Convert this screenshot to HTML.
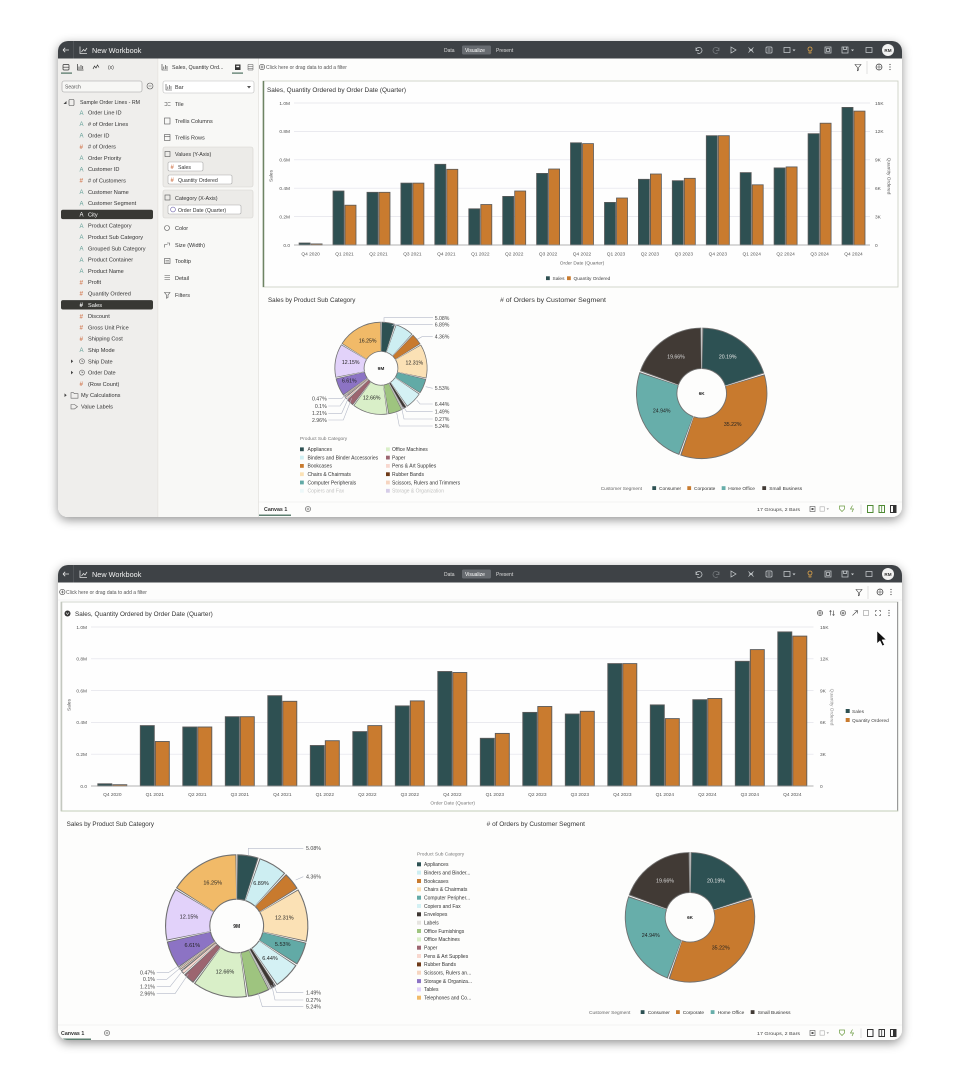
<!DOCTYPE html>
<html><head><meta charset="utf-8">
<style>
html,body{margin:0;padding:0;background:#fff;width:960px;height:1080px;overflow:hidden}
svg{display:block}
text{font-family:"Liberation Sans",sans-serif}
</style></head><body>
<svg xmlns="http://www.w3.org/2000/svg" width="960" height="1080" viewBox="0 0 960 1080">
<defs>
<filter id="sh" x="-4%" y="-6%" width="108%" height="114%">
<feDropShadow dx="0" dy="3" stdDeviation="5" flood-color="#000" flood-opacity="0.42"/>
</filter>
<clipPath id="c1"><rect x="58" y="41" width="844" height="476" rx="10"/></clipPath>
<clipPath id="c2"><rect x="58" y="565" width="844" height="475" rx="10"/></clipPath>
</defs>
<rect width="960" height="1080" fill="#fff"/>

<!-- ================= WINDOW 1 ================= -->
<rect x="58" y="41" width="844" height="476" rx="10" fill="#fdfdfc" filter="url(#sh)"/>
<g clip-path="url(#c1)">
<!-- title bar -->
<g>
<rect x="58" y="41" width="844" height="17.5" fill="#3e4246"/>
<path d="M63 50 h6 M63 50 l2.2 -2.2 M63 50 l2.2 2.2" stroke="#e6e6e6" stroke-width="0.8" fill="none"/>
<line x1="73.5" y1="41" x2="73.5" y2="58.5" stroke="#55595e" stroke-width="0.8"/>
<path d="M80 46.5 v7 h7 M81.5 52 l2 -2.5 l1.5 1.5 l2 -3" stroke="#e0e0e0" stroke-width="0.8" fill="none"/>
<text x="92" y="52.8" font-size="7.3" fill="#f2f2f2">New Workbook</text>
<text x="444" y="52" font-size="5" fill="#dcdcdc">Data</text>
<rect x="462" y="45.5" width="29" height="9" rx="1.5" fill="#676b70"/>
<text x="465" y="52" font-size="5" fill="#fff">Visualize</text>
<text x="496" y="52" font-size="5" fill="#dcdcdc">Present</text>
<g stroke="#cfd3d6" stroke-width="0.7" fill="none">
<path d="M696 47.5 v3 h3 M696 50.5 a3 3 0 1 1 1.2 2.3"/>
<path d="M719 47.5 v3 h-3 M719 50.5 a3 3 0 1 0 -1.2 2.3" stroke="#7a7e82"/>
<polygon points="731,47 736,50 731,53"/>
<path d="M748.5 47.5 l5 5 M753.5 47.5 l-5 5 M749 50 h4"/>
<rect x="766" y="47" width="6" height="6" rx="1"/>
<path d="M767.5 49 h3 M767.5 51 h3"/>
<rect x="784" y="47.5" width="6" height="5"/>
<rect x="825" y="47" width="6" height="6"/>
<rect x="826.5" y="48.5" width="3" height="3"/>
<rect x="842" y="47" width="6" height="6"/>
<path d="M843.5 47 v2.5 h3 v-2.5"/>
<rect x="866" y="47.5" width="6" height="5"/>
</g>
<polygon points="792.5,49.5 795.5,49.5 794,51.3" fill="#cfd3d6"/>
<polygon points="851,49.5 854,49.5 852.5,51.3" fill="#cfd3d6"/>
<circle cx="810" cy="49" r="2" fill="none" stroke="#e2a64a" stroke-width="0.8"/>
<path d="M809 51.5 v1.5 h2 v-1.5" stroke="#e2a64a" stroke-width="0.7" fill="none"/>
<circle cx="888" cy="50" r="6" fill="#f2f2f2"/>
<text x="888" y="51.8" font-size="4.6" fill="#333" text-anchor="middle" font-weight="bold">RM</text>
</g>

<!-- data panel -->
<rect x="58" y="58.5" width="100" height="460" fill="#efeeec"/>
<line x1="158" y1="58.5" x2="158" y2="517" stroke="#dcdad6" stroke-width="0.6"/>
<!-- grammar panel -->
<rect x="158.3" y="58.5" width="100" height="460" fill="#f8f8f6"/>
<line x1="258.3" y1="58.5" x2="258.3" y2="517" stroke="#dcdad6" stroke-width="0.6"/>

<!-- data panel tabs -->
<g stroke="#333" stroke-width="0.7" fill="none">
<rect x="63" y="64.5" width="6" height="5.5" rx="1"/>
<path d="M63 67.2 h6"/>
<path d="M77.5 64 v6 h6 M79 69 v-2.5 M81 69 v-4 M82.7 69 v-3"/>
<path d="M93 69 l1.5 -3 l1.5 2 l1.5 -3 l1.5 2.5"/>
</g>
<text x="108" y="69" font-size="5" fill="#333">(x)</text>
<rect x="61" y="72.5" width="11" height="1.2" fill="#4d7060"/>
<!-- search -->
<rect x="62" y="81" width="80" height="11" rx="2" fill="#f7f7f5" stroke="#a0a0a0" stroke-width="0.6"/>
<text x="65" y="88.5" font-size="5" fill="#555">Search</text>
<circle cx="150" cy="86" r="3" fill="none" stroke="#555" stroke-width="0.6"/>
<path d="M148.5 86 h3" stroke="#555" stroke-width="0.6"/>
<!-- tree root -->
<polygon points="63.5,104 66.5,104 66.5,101" fill="#444"/>
<rect x="69" y="99.5" width="5" height="6" rx="0.8" fill="none" stroke="#444" stroke-width="0.6"/>
<text x="80" y="104" font-size="5.3" fill="#333">Sample Order Lines - RM</text>
<!-- highlights -->
<rect x="61" y="209.7" width="92" height="9.4" rx="2" fill="#383834"/>
<rect x="61" y="300.1" width="92" height="9.4" rx="2" fill="#383834"/>
<!-- A icons -->
<g font-size="6" fill="#5f9d95">
<text x="79.5" y="114.9">A</text>
<text x="79.5" y="126.2">A</text>
<text x="79.5" y="137.5">A</text>
<text x="79.5" y="160.1">A</text>
<text x="79.5" y="171.4">A</text>
<text x="79.5" y="194.0">A</text>
<text x="79.5" y="205.3">A</text>
<text x="79.5" y="216.6" fill="#fff">A</text>
<text x="79.5" y="227.9">A</text>
<text x="79.5" y="239.2">A</text>
<text x="79.5" y="250.5">A</text>
<text x="79.5" y="261.8">A</text>
<text x="79.5" y="273.1">A</text>
<text x="79.5" y="352.2">A</text>
</g>
<g font-size="6.3" fill="#d4825c" font-weight="bold">
<text x="79.5" y="148.8">#</text>
<text x="79.5" y="182.7">#</text>
<text x="79.5" y="284.4">#</text>
<text x="79.5" y="295.7">#</text>
<text x="79.5" y="307.0" fill="#fff">#</text>
<text x="79.5" y="318.3">#</text>
<text x="79.5" y="329.6">#</text>
<text x="79.5" y="340.9">#</text>
<text x="79.5" y="386.1">#</text>
</g>
<g fill="none" stroke="#666" stroke-width="0.6">
<circle cx="82" cy="361.3" r="2.5"/><path d="M82 360 v1.4 h1.2"/>
<circle cx="82" cy="372.6" r="2.5"/><path d="M82 371.3 v1.4 h1.2"/>
<path d="M71 392.7 h2.5 l0.8 1 h3.7 v4.5 h-7 z"/>
<path d="M71 404.5 h3.5 l3 2.2 l-3 2.2 h-3.5 z"/>
</g>
<polygon points="71,359.5 73.2,361.3 71,363.1" fill="#444"/>
<polygon points="71,370.8 73.2,372.6 71,374.4" fill="#444"/>
<polygon points="64.5,393.4 66.7,395.2 64.5,397" fill="#444"/>
<g font-size="5.6" fill="#333">
<text x="88" y="114.7">Order Line ID</text>
<text x="88" y="126.0"># of Order Lines</text>
<text x="88" y="137.3">Order ID</text>
<text x="88" y="148.6"># of Orders</text>
<text x="88" y="159.9">Order Priority</text>
<text x="88" y="171.2">Customer ID</text>
<text x="88" y="182.5"># of Customers</text>
<text x="88" y="193.8">Customer Name</text>
<text x="88" y="205.1">Customer Segment</text>
<text x="88" y="216.4" fill="#fff">City</text>
<text x="88" y="227.7">Product Category</text>
<text x="88" y="239.0">Product Sub Category</text>
<text x="88" y="250.3">Grouped Sub Category</text>
<text x="88" y="261.6">Product Container</text>
<text x="88" y="272.9">Product Name</text>
<text x="88" y="284.2">Profit</text>
<text x="88" y="295.5">Quantity Ordered</text>
<text x="88" y="306.8" fill="#fff">Sales</text>
<text x="88" y="318.1">Discount</text>
<text x="88" y="329.4">Gross Unit Price</text>
<text x="88" y="340.7">Shipping Cost</text>
<text x="88" y="352.0">Ship Mode</text>
<text x="88" y="363.3">Ship Date</text>
<text x="88" y="374.6">Order Date</text>
<text x="88" y="385.9">(Row Count)</text>
<text x="81" y="397.2">My Calculations</text>
<text x="81" y="408.5">Value Labels</text>
</g>

<!-- grammar panel -->
<path d="M162 64 v6 h6 M163.8 69 v-2.5 M165.5 69 v-4 M167 69 v-3" stroke="#333" stroke-width="0.6" fill="none"/>
<text x="172" y="69" font-size="5.4" fill="#333">Sales, Quantity Ord...</text>
<rect x="235" y="64.5" width="5.5" height="5.5" fill="#333"/>
<rect x="236.3" y="65.8" width="2.9" height="1.4" fill="#f8f8f6"/>
<rect x="232" y="72.5" width="11" height="1.2" fill="#4d7060"/>
<path d="M248 64.5 h5 v5.5 h-5 z M248 66.5 h5 M248 68.3 h5" stroke="#555" stroke-width="0.5" fill="none"/>
<rect x="163" y="81" width="91" height="12" rx="2" fill="#fff" stroke="#bbb" stroke-width="0.6"/>
<path d="M166 84 v6 h6 M167.8 89 v-2.5 M169.5 89 v-4 M171 89 v-3" stroke="#444" stroke-width="0.6" fill="none"/>
<text x="175" y="89" font-size="5.5" fill="#333">Bar</text>
<polygon points="247,86 251,86 249,88.5" fill="#555"/>
<g stroke="#555" stroke-width="0.6" fill="none">
<path d="M164.5 102.5 h2.5 v3 h-2.5 M168 102.5 h2.5 M168 105.5 h2.5"/>
<rect x="164.5" y="118" width="5.5" height="6"/>
<rect x="164.5" y="134.5" width="5.5" height="6"/><path d="M164.5 136.5 h5.5"/>
</g>
<g font-size="5.5" fill="#333">
<text x="175" y="106">Tile</text>
<text x="175" y="123">Trellis Columns</text>
<text x="175" y="139.5">Trellis Rows</text>
</g>
<rect x="163" y="147" width="90" height="40" rx="2" fill="#ecebe8" stroke="#d5d3cf" stroke-width="0.6"/>
<rect x="165" y="151.5" width="5" height="5" fill="none" stroke="#555" stroke-width="0.6"/>
<text x="175" y="156" font-size="5.4" fill="#333">Values (Y-Axis)</text>
<rect x="168" y="162" width="35" height="9" rx="1.5" fill="#fff" stroke="#a9a9a9" stroke-width="0.6"/>
<text x="170.5" y="169" font-size="6" fill="#d4825c" font-weight="bold">#</text>
<text x="178" y="168.8" font-size="5.2" fill="#333">Sales</text>
<rect x="168" y="175" width="64" height="9" rx="1.5" fill="#fff" stroke="#a9a9a9" stroke-width="0.6"/>
<text x="170.5" y="182" font-size="6" fill="#d4825c" font-weight="bold">#</text>
<text x="178" y="181.8" font-size="5.2" fill="#333">Quantity Ordered</text>
<rect x="163" y="190" width="90" height="28" rx="2" fill="#ecebe8" stroke="#d5d3cf" stroke-width="0.6"/>
<rect x="165" y="195" width="5" height="5" fill="none" stroke="#555" stroke-width="0.6"/>
<text x="175" y="200" font-size="5.4" fill="#333">Category (X-Axis)</text>
<rect x="168" y="205" width="73" height="9" rx="1.5" fill="#fff" stroke="#a9a9a9" stroke-width="0.6"/>
<circle cx="173" cy="209.5" r="2.4" fill="none" stroke="#6a5fa8" stroke-width="0.6"/>
<text x="178" y="211.8" font-size="5.2" fill="#333">Order Date (Quarter)</text>
<g stroke="#555" stroke-width="0.6" fill="none">
<circle cx="167" cy="228" r="2.5"/>
<path d="M164.5 247.5 v-3 M164.5 244.5 h3 M167 243 h2.5 v2.5"/>
<rect x="164.5" y="258.5" width="5.5" height="5"/><path d="M165.5 260.5 h3.5 M165.5 262 h3.5"/>
<path d="M164.5 275.5 h5.5 M164.5 277.5 h5.5 M164.5 279.5 h5.5"/>
<path d="M164.5 292.5 h5.5 l-2 2.5 v2.5 l-1.5 0.8 v-3.3 z"/>
</g>
<g font-size="5.5" fill="#333">
<text x="175" y="230">Color</text>
<text x="175" y="247">Size (Width)</text>
<text x="175" y="263">Tooltip</text>
<text x="175" y="280">Detail</text>
<text x="175" y="297">Filters</text>
</g>

<!-- canvas filter bar -->
<circle cx="262" cy="67" r="2.7" fill="none" stroke="#444" stroke-width="0.6"/>
<path d="M260.5 67 h3 M262 65.5 v3" stroke="#444" stroke-width="0.6"/>
<text x="266" y="69" font-size="5" fill="#555">Click here or drag data to add a filter</text>
<g>
<path d="M855 64.5 h6 l-2.3 2.8 v2.6 l-1.4 0.8 v-3.4 z" fill="none" stroke="#444" stroke-width="0.6"/>
<line x1="867" y1="61" x2="867" y2="74" stroke="#cfcfcf" stroke-width="0.6"/>
<circle cx="879" cy="67" r="3" fill="none" stroke="#444" stroke-width="0.7"/>
<path d="M876 67 h6 M879 64 v6" stroke="#444" stroke-width="0.5"/>
<circle cx="890" cy="64.5" r="0.6" fill="#444"/><circle cx="890" cy="67" r="0.6" fill="#444"/><circle cx="890" cy="69.5" r="0.6" fill="#444"/>
</g>

<!-- bar chart viz -->
<rect x="263" y="81" width="635" height="206" fill="#fefefe" stroke="#c8ccc0" stroke-width="0.8"/>
<line x1="263.5" y1="81" x2="263.5" y2="287" stroke="#6e8464" stroke-width="1.5"/>
<text x="267" y="92" font-size="6.2" fill="#333" textLength="139" lengthAdjust="spacingAndGlyphs">Sales, Quantity Ordered by Order Date (Quarter)</text>
<g stroke="#e3e3ea" stroke-width="0.7">
<line x1="294" y1="103" x2="870" y2="103"/>
<line x1="294" y1="131.4" x2="870" y2="131.4"/>
<line x1="294" y1="159.8" x2="870" y2="159.8"/>
<line x1="294" y1="188.2" x2="870" y2="188.2"/>
<line x1="294" y1="216.6" x2="870" y2="216.6"/>
</g>
<g font-size="4.8" fill="#555" text-anchor="end">
<text x="290" y="104.8">1.0M</text>
<text x="290" y="133.2">0.8M</text>
<text x="290" y="161.6">0.6M</text>
<text x="290" y="190">0.4M</text>
<text x="290" y="218.4">0.2M</text>
<text x="290" y="246.8">0.0</text>
</g>
<g font-size="4.8" fill="#555">
<text x="875" y="104.8">15K</text>
<text x="875" y="133.2">12K</text>
<text x="875" y="161.6">9K</text>
<text x="875" y="190">6K</text>
<text x="875" y="218.4">3K</text>
<text x="875" y="246.8">0</text>
</g>
<text x="271" y="177.5" font-size="4.8" fill="#555" text-anchor="middle" transform="rotate(-90 271 176)">Sales</text>
<text x="889" y="177.5" font-size="4.8" fill="#555" text-anchor="middle" transform="rotate(90 889 176)">Quantity Ordered</text>
<g fill="#2e5052" stroke="#5a5a5a" stroke-width="0.8">
<rect x="299.1" y="243.0" width="11" height="2.0"/>
<rect x="333.0" y="191.0" width="11" height="54.0"/>
<rect x="367.0" y="192.3" width="11" height="52.7"/>
<rect x="400.9" y="183.1" width="11" height="61.9"/>
<rect x="434.8" y="164.3" width="11" height="80.7"/>
<rect x="468.8" y="208.8" width="11" height="36.2"/>
<rect x="502.7" y="196.4" width="11" height="48.6"/>
<rect x="536.6" y="173.4" width="11" height="71.6"/>
<rect x="570.5" y="142.8" width="11" height="102.2"/>
<rect x="604.5" y="202.4" width="11" height="42.6"/>
<rect x="638.4" y="179.3" width="11" height="65.7"/>
<rect x="672.3" y="180.7" width="11" height="64.3"/>
<rect x="706.3" y="135.7" width="11" height="109.3"/>
<rect x="740.2" y="172.6" width="11" height="72.4"/>
<rect x="774.1" y="167.9" width="11" height="77.1"/>
<rect x="808.1" y="133.7" width="11" height="111.3"/>
<rect x="842.0" y="107.4" width="11" height="137.6"/>
</g>
<g fill="#c97b2f" stroke="#5a5a5a" stroke-width="0.8">
<rect x="311.1" y="243.9" width="11" height="1.1"/>
<rect x="345.0" y="205.2" width="11" height="39.8"/>
<rect x="379.0" y="192.3" width="11" height="52.7"/>
<rect x="412.9" y="183.1" width="11" height="61.9"/>
<rect x="446.8" y="169.3" width="11" height="75.7"/>
<rect x="480.8" y="204.5" width="11" height="40.5"/>
<rect x="514.7" y="191.0" width="11" height="54.0"/>
<rect x="548.6" y="169.0" width="11" height="76.0"/>
<rect x="582.5" y="143.6" width="11" height="101.4"/>
<rect x="616.5" y="198.0" width="11" height="47.0"/>
<rect x="650.4" y="174.0" width="11" height="71.0"/>
<rect x="684.3" y="178.3" width="11" height="66.7"/>
<rect x="718.3" y="135.7" width="11" height="109.3"/>
<rect x="752.2" y="184.8" width="11" height="60.2"/>
<rect x="786.1" y="166.9" width="11" height="78.1"/>
<rect x="820.1" y="123.2" width="11" height="121.8"/>
<rect x="854.0" y="111.1" width="11" height="133.9"/>
</g>
<line x1="294" y1="245" x2="870" y2="245" stroke="#9a9a9a" stroke-width="0.8"/>
<g font-size="4.8" fill="#555" text-anchor="middle">
<text x="310.6" y="255.5">Q4 2020</text>
<text x="344.5" y="255.5">Q1 2021</text>
<text x="378.5" y="255.5">Q2 2021</text>
<text x="412.4" y="255.5">Q3 2021</text>
<text x="446.3" y="255.5">Q4 2021</text>
<text x="480.3" y="255.5">Q1 2022</text>
<text x="514.2" y="255.5">Q2 2022</text>
<text x="548.1" y="255.5">Q3 2022</text>
<text x="582.0" y="255.5">Q4 2022</text>
<text x="616.0" y="255.5">Q1 2023</text>
<text x="649.9" y="255.5">Q2 2023</text>
<text x="683.8" y="255.5">Q3 2023</text>
<text x="717.8" y="255.5">Q4 2023</text>
<text x="751.7" y="255.5">Q1 2024</text>
<text x="785.6" y="255.5">Q2 2024</text>
<text x="819.6" y="255.5">Q3 2024</text>
<text x="853.5" y="255.5">Q4 2024</text>
<text x="582" y="264.5" fill="#666">Order Date (Quarter)</text>
</g>
<rect x="546" y="276.3" width="3.8" height="3.8" fill="#2e5052"/>
<text x="552.5" y="279.8" font-size="4.8" fill="#444">Sales</text>
<rect x="567" y="276.3" width="3.8" height="3.8" fill="#c97b2f"/>
<text x="573.5" y="279.8" font-size="4.8" fill="#444">Quantity Ordered</text>

<!-- top pies -->
<text x="268" y="302" font-size="6.2" fill="#333" textLength="87.4" lengthAdjust="spacingAndGlyphs">Sales by Product Sub Category</text>
<text x="500" y="302" font-size="6.2" fill="#333" textLength="106" lengthAdjust="spacingAndGlyphs"># of Orders by Customer Segment</text>

<g fill="none" stroke="#707070" stroke-width="30">
<circle cx="381" cy="368.3" r="31.5" stroke-dasharray="9.55 400" stroke-dashoffset="-0.25" transform="rotate(-90 381 368.3)"/>
<circle cx="381" cy="368.3" r="31.5" stroke-dasharray="13.14 400" stroke-dashoffset="-0.25" transform="rotate(-71.71 381 368.3)"/>
<circle cx="381" cy="368.3" r="31.5" stroke-dasharray="8.13 400" stroke-dashoffset="-0.25" transform="rotate(-46.91 381 368.3)"/>
<circle cx="381" cy="368.3" r="31.5" stroke-dasharray="23.86 400" stroke-dashoffset="-0.25" transform="rotate(-31.21 381 368.3)"/>
<circle cx="381" cy="368.3" r="31.5" stroke-dasharray="10.44 400" stroke-dashoffset="-0.25" transform="rotate(13.10 381 368.3)"/>
<circle cx="381" cy="368.3" r="31.5" stroke-dasharray="12.24 400" stroke-dashoffset="-0.25" transform="rotate(33.01 381 368.3)"/>
<circle cx="381" cy="368.3" r="31.5" stroke-dasharray="2.45 400" stroke-dashoffset="-0.25" transform="rotate(56.20 381 368.3)"/>
<circle cx="381" cy="368.3" r="31.5" stroke-dasharray="0.53 400" transform="rotate(61.56 381 368.3)"/>
<circle cx="381" cy="368.3" r="31.5" stroke-dasharray="9.87 400" stroke-dashoffset="-0.25" transform="rotate(62.53 381 368.3)"/>
<circle cx="381" cy="368.3" r="31.5" stroke-dasharray="24.55 400" stroke-dashoffset="-0.25" transform="rotate(81.40 381 368.3)"/>
<circle cx="381" cy="368.3" r="31.5" stroke-dasharray="5.36 400" stroke-dashoffset="-0.25" transform="rotate(126.97 381 368.3)"/>
<circle cx="381" cy="368.3" r="31.5" stroke-dasharray="1.89 400" stroke-dashoffset="-0.25" transform="rotate(137.63 381 368.3)"/>
<circle cx="381" cy="368.3" r="31.5" stroke-dasharray="0.20 400" transform="rotate(141.98 381 368.3)"/>
<circle cx="381" cy="368.3" r="31.5" stroke-dasharray="0.93 400" transform="rotate(142.34 381 368.3)"/>
<circle cx="381" cy="368.3" r="31.5" stroke-dasharray="12.58 400" stroke-dashoffset="-0.25" transform="rotate(144.04 381 368.3)"/>
<circle cx="381" cy="368.3" r="31.5" stroke-dasharray="23.54 400" stroke-dashoffset="-0.25" transform="rotate(167.83 381 368.3)"/>
<circle cx="381" cy="368.3" r="31.5" stroke-dasharray="31.66 400" stroke-dashoffset="-0.25" transform="rotate(211.57 381 368.3)"/>
</g>
<g fill="none" stroke-width="28.4">
<circle cx="381" cy="368.3" r="31.5" stroke="#2d5153" stroke-dasharray="8.55 400" stroke-dashoffset="-0.75" transform="rotate(-90 381 368.3)"/>
<circle cx="381" cy="368.3" r="31.5" stroke="#cdeef2" stroke-dasharray="12.14 400" stroke-dashoffset="-0.75" transform="rotate(-71.71 381 368.3)"/>
<circle cx="381" cy="368.3" r="31.5" stroke="#c87a2e" stroke-dasharray="7.13 400" stroke-dashoffset="-0.75" transform="rotate(-46.91 381 368.3)"/>
<circle cx="381" cy="368.3" r="31.5" stroke="#fbe1b5" stroke-dasharray="22.86 400" stroke-dashoffset="-0.75" transform="rotate(-31.21 381 368.3)"/>
<circle cx="381" cy="368.3" r="31.5" stroke="#62aaa6" stroke-dasharray="9.44 400" stroke-dashoffset="-0.75" transform="rotate(13.10 381 368.3)"/>
<circle cx="381" cy="368.3" r="31.5" stroke="#d4f1f4" stroke-dasharray="11.24 400" stroke-dashoffset="-0.75" transform="rotate(33.01 381 368.3)"/>
<circle cx="381" cy="368.3" r="31.5" stroke="#3d3632" stroke-dasharray="1.45 400" stroke-dashoffset="-0.75" transform="rotate(56.20 381 368.3)"/>
<circle cx="381" cy="368.3" r="31.5" stroke="#e6e4e0" stroke-dasharray="0.24 400" stroke-dashoffset="-0.15" transform="rotate(61.56 381 368.3)"/>
<circle cx="381" cy="368.3" r="31.5" stroke="#9ec47f" stroke-dasharray="8.87 400" stroke-dashoffset="-0.75" transform="rotate(62.53 381 368.3)"/>
<circle cx="381" cy="368.3" r="31.5" stroke="#d9efc8" stroke-dasharray="23.55 400" stroke-dashoffset="-0.75" transform="rotate(81.40 381 368.3)"/>
<circle cx="381" cy="368.3" r="31.5" stroke="#9c6570" stroke-dasharray="4.36 400" stroke-dashoffset="-0.75" transform="rotate(126.97 381 368.3)"/>
<circle cx="381" cy="368.3" r="31.5" stroke="#f8d8cf" stroke-dasharray="0.89 400" stroke-dashoffset="-0.5" transform="rotate(137.63 381 368.3)"/>
<circle cx="381" cy="368.3" r="31.5" stroke="#6e3a18" stroke-dasharray="0.09 400" stroke-dashoffset="-0.06" transform="rotate(141.98 381 368.3)"/>
<circle cx="381" cy="368.3" r="31.5" stroke="#f6d5c0" stroke-dasharray="0.42 400" stroke-dashoffset="-0.26" transform="rotate(142.34 381 368.3)"/>
<circle cx="381" cy="368.3" r="31.5" stroke="#8c73c4" stroke-dasharray="11.58 400" stroke-dashoffset="-0.75" transform="rotate(144.04 381 368.3)"/>
<circle cx="381" cy="368.3" r="31.5" stroke="#e2d2fa" stroke-dasharray="22.54 400" stroke-dashoffset="-0.75" transform="rotate(167.83 381 368.3)"/>
<circle cx="381" cy="368.3" r="31.5" stroke="#f1ba68" stroke-dasharray="30.66 400" stroke-dashoffset="-0.75" transform="rotate(211.57 381 368.3)"/>
</g>
<g font-size="5.2" fill="#222" text-anchor="middle">
<text x="367.7" y="342.5">16.25%</text>
<text x="350.7" y="363.8">12.15%</text>
<text x="349.3" y="382.5">6.61%</text>
<text x="371.7" y="399.5">12.66%</text>
<text x="414.3" y="364.5">12.31%</text>
<text x="381" y="370.1" font-weight="bold" font-size="4.8">9M</text>
</g>
<g fill="none" stroke="#b5bac8" stroke-width="0.6">
<polyline points="384,322.5 384,317.7 433,317.7"/>
<polyline points="391.7,326 394,324.7 432.7,324.7"/>
<polyline points="417.3,339.3 422,336.7 432.7,336.7"/>
<polyline points="425.7,386.7 432.7,388.3"/>
<polyline points="416.7,400 420,404 432.7,404"/>
<polyline points="403.3,406.7 406.7,411.7 432.7,411.7"/>
<polyline points="401.7,408.3 404,419 432.7,419"/>
<polyline points="396.7,412.7 399.3,426 432.7,426"/>
<polyline points="347.3,392.7 341.7,398.7 328.3,398.7"/>
<polyline points="348.3,394 340,406 328.3,406"/>
<polyline points="349.3,396 341.7,413.3 328.3,413.3"/>
<polyline points="351.7,398.3 343.3,420 328.3,420"/>
</g>
<g font-size="5.2" fill="#444">
<text x="434.7" y="319.8">5.08%</text>
<text x="434.7" y="326.5">6.89%</text>
<text x="434.7" y="338.5">4.36%</text>
<text x="434.7" y="390.1">5.53%</text>
<text x="434.7" y="405.8">6.44%</text>
<text x="434.7" y="413.5">1.49%</text>
<text x="434.7" y="420.8">0.27%</text>
<text x="434.7" y="427.8">5.24%</text>
</g>
<g font-size="5.2" fill="#444" text-anchor="end">
<text x="326.7" y="400.5">0.47%</text>
<text x="326.7" y="407.8">0.1%</text>
<text x="326.7" y="415.1">1.21%</text>
<text x="326.7" y="421.8">2.96%</text>
</g>
<text x="300" y="439.8" font-size="4.8" fill="#777">Product Sub Category</text>
<rect x="300" y="447.4" width="3.8" height="3.8" fill="#2d5153"/>
<rect x="300" y="455.7" width="3.8" height="3.8" fill="#cdeef2"/>
<rect x="300" y="464.0" width="3.8" height="3.8" fill="#c87a2e"/>
<rect x="300" y="472.3" width="3.8" height="3.8" fill="#fbe1b5"/>
<rect x="300" y="480.6" width="3.8" height="3.8" fill="#62aaa6"/>
<rect x="300" y="488.9" width="3.8" height="3.8" fill="#d4f1f4" opacity="0.4"/>
<rect x="386" y="447.4" width="3.8" height="3.8" fill="#d9efc8"/>
<rect x="386" y="455.7" width="3.8" height="3.8" fill="#9c6570"/>
<rect x="386" y="464.0" width="3.8" height="3.8" fill="#f8d8cf"/>
<rect x="386" y="472.3" width="3.8" height="3.8" fill="#6e3a18"/>
<rect x="386" y="480.6" width="3.8" height="3.8" fill="#f6d5c0"/>
<rect x="386" y="488.9" width="3.8" height="3.8" fill="#8c73c4" opacity="0.35"/>
<g font-size="5" fill="#333">
<text x="307.5" y="451.1">Appliances</text>
<text x="307.5" y="459.4">Binders and Binder Accessories</text>
<text x="307.5" y="467.7">Bookcases</text>
<text x="307.5" y="476.0">Chairs &amp; Chairmats</text>
<text x="307.5" y="484.3">Computer Peripherals</text>
<text x="307.5" y="492.6" opacity="0.3">Copiers and Fax</text>
<text x="392" y="451.1">Office Machines</text>
<text x="392" y="459.4">Paper</text>
<text x="392" y="467.7">Pens &amp; Art Supplies</text>
<text x="392" y="476.0">Rubber Bands</text>
<text x="392" y="484.3">Scissors, Rulers and Trimmers</text>
<text x="392" y="492.6" opacity="0.3">Storage &amp; Organization</text>
</g>

<!-- top segment donut -->
<g fill="none" stroke="#707070" stroke-width="41.4">
<circle cx="701.7" cy="393.3" r="45" stroke-dasharray="56.28 400" stroke-dashoffset="-0.4" transform="rotate(-90 701.7 393.3)"/>
<circle cx="701.7" cy="393.3" r="45" stroke-dasharray="98.77 400" stroke-dashoffset="-0.4" transform="rotate(-17.32 701.7 393.3)"/>
<circle cx="701.7" cy="393.3" r="45" stroke-dasharray="69.71 400" stroke-dashoffset="-0.4" transform="rotate(109.48 701.7 393.3)"/>
<circle cx="701.7" cy="393.3" r="45" stroke-dasharray="54.78 400" stroke-dashoffset="-0.4" transform="rotate(199.26 701.7 393.3)"/>
</g>
<g fill="none" stroke-width="39.6">
<circle cx="701.7" cy="393.3" r="45" stroke="#2d5153" stroke-dasharray="54.68 400" stroke-dashoffset="-1.2" transform="rotate(-90 701.7 393.3)"/>
<circle cx="701.7" cy="393.3" r="45" stroke="#c87a2e" stroke-dasharray="97.17 400" stroke-dashoffset="-1.2" transform="rotate(-17.32 701.7 393.3)"/>
<circle cx="701.7" cy="393.3" r="45" stroke="#67aeaa" stroke-dasharray="68.11 400" stroke-dashoffset="-1.2" transform="rotate(109.48 701.7 393.3)"/>
<circle cx="701.7" cy="393.3" r="45" stroke="#413a35" stroke-dasharray="53.18 400" stroke-dashoffset="-1.2" transform="rotate(199.26 701.7 393.3)"/>
</g>
<g font-size="5.2" text-anchor="middle">
<text x="727.7" y="358.5" fill="#e8e8e8">20.19%</text>
<text x="732.7" y="425.8" fill="#222">35.22%</text>
<text x="661.7" y="412.5" fill="#222">24.94%</text>
<text x="676" y="358.5" fill="#ddd">19.66%</text>
<text x="701.7" y="395" fill="#222" font-weight="bold" font-size="4.6">6K</text>
</g>
<text x="600.7" y="490" font-size="4.8" fill="#666">Customer Segment</text>
<rect x="652.3" y="486.2" width="3.8" height="3.8" fill="#2d5153"/>
<rect x="687.3" y="486.2" width="3.8" height="3.8" fill="#c87a2e"/>
<rect x="721.7" y="486.2" width="3.8" height="3.8" fill="#67aeaa"/>
<rect x="762.3" y="486.2" width="3.8" height="3.8" fill="#413a35"/>
<g font-size="4.8" fill="#333">
<text x="659" y="490">Consumer</text>
<text x="694" y="490">Corporate</text>
<text x="728.3" y="490">Home Office</text>
<text x="769.3" y="490">Small Business</text>
</g>

<!-- top status bar -->
<line x1="258.3" y1="502" x2="902" y2="502" stroke="#e8e8e8" stroke-width="0.6"/>
<text x="264" y="511" font-size="5.3" fill="#333" font-weight="bold">Canvas 1</text>
<rect x="259" y="514.5" width="32" height="1.5" fill="#5d7f70"/>
<circle cx="308" cy="509" r="2.6" fill="none" stroke="#555" stroke-width="0.6"/>
<path d="M306.6 509 h2.8 M308 507.6 v2.8" stroke="#555" stroke-width="0.5"/>
<g>
<text x="757" y="511" font-size="4.8" fill="#444" textLength="43" lengthAdjust="spacingAndGlyphs">17 Groups, 2 Bars</text>
<rect x="810" y="506.5" width="5" height="5" fill="none" stroke="#555" stroke-width="0.6"/>
<rect x="811.5" y="508" width="2" height="2" fill="#555"/>
<rect x="820" y="506.8" width="4.4" height="4.4" fill="none" stroke="#aaa" stroke-width="0.6"/>
<polygon points="826.5,508.3 829,508.3 827.75,510" fill="#aaa"/>
<path d="M839.5 506 h5 v3 l-2.5 2.5 l-2.5 -2.5 z" fill="none" stroke="#6a9a40" stroke-width="0.7"/>
<path d="M852.5 505.5 l-2 3.5 h3 l-1.5 3" fill="none" stroke="#6a9a40" stroke-width="0.7"/>
<line x1="861" y1="504.5" x2="861" y2="514" stroke="#ccc" stroke-width="0.6"/>
<rect x="867.5" y="505.5" width="5.5" height="7" fill="none" stroke="#4f8a34" stroke-width="1"/>
<rect x="879" y="505.5" width="5.5" height="7" fill="none" stroke="#4f8a34" stroke-width="1"/>
<line x1="881.7" y1="505.5" x2="881.7" y2="512.5" stroke="#4f8a34" stroke-width="0.8"/>
<rect x="890.5" y="505.5" width="5.5" height="7" fill="none" stroke="#333" stroke-width="1"/>
<rect x="893" y="505.5" width="3" height="7" fill="#333"/>
</g>
</g>

<!-- ================= WINDOW 2 ================= -->
<rect x="58" y="565" width="844" height="475" rx="10" fill="#fdfdfc" filter="url(#sh)"/>
<g clip-path="url(#c2)">
<g transform="translate(0,524)">
<rect x="58" y="41" width="844" height="17.5" fill="#3e4246"/>
<path d="M63 50 h6 M63 50 l2.2 -2.2 M63 50 l2.2 2.2" stroke="#e6e6e6" stroke-width="0.8" fill="none"/>
<line x1="73.5" y1="41" x2="73.5" y2="58.5" stroke="#55595e" stroke-width="0.8"/>
<path d="M80 46.5 v7 h7 M81.5 52 l2 -2.5 l1.5 1.5 l2 -3" stroke="#e0e0e0" stroke-width="0.8" fill="none"/>
<text x="92" y="52.8" font-size="7.3" fill="#f2f2f2">New Workbook</text>
<text x="444" y="52" font-size="5" fill="#dcdcdc">Data</text>
<rect x="462" y="45.5" width="29" height="9" rx="1.5" fill="#676b70"/>
<text x="465" y="52" font-size="5" fill="#fff">Visualize</text>
<text x="496" y="52" font-size="5" fill="#dcdcdc">Present</text>
<g stroke="#cfd3d6" stroke-width="0.7" fill="none">
<path d="M696 47.5 v3 h3 M696 50.5 a3 3 0 1 1 1.2 2.3"/>
<path d="M719 47.5 v3 h-3 M719 50.5 a3 3 0 1 0 -1.2 2.3" stroke="#7a7e82"/>
<polygon points="731,47 736,50 731,53"/>
<path d="M748.5 47.5 l5 5 M753.5 47.5 l-5 5 M749 50 h4"/>
<rect x="766" y="47" width="6" height="6" rx="1"/>
<path d="M767.5 49 h3 M767.5 51 h3"/>
<rect x="784" y="47.5" width="6" height="5"/>
<rect x="825" y="47" width="6" height="6"/>
<rect x="826.5" y="48.5" width="3" height="3"/>
<rect x="842" y="47" width="6" height="6"/>
<path d="M843.5 47 v2.5 h3 v-2.5"/>
<rect x="866" y="47.5" width="6" height="5"/>
</g>
<polygon points="792.5,49.5 795.5,49.5 794,51.3" fill="#cfd3d6"/>
<polygon points="851,49.5 854,49.5 852.5,51.3" fill="#cfd3d6"/>
<circle cx="810" cy="49" r="2" fill="none" stroke="#e2a64a" stroke-width="0.8"/>
<path d="M809 51.5 v1.5 h2 v-1.5" stroke="#e2a64a" stroke-width="0.7" fill="none"/>
<circle cx="888" cy="50" r="6" fill="#f2f2f2"/>
<text x="888" y="51.8" font-size="4.6" fill="#333" text-anchor="middle" font-weight="bold">RM</text>
</g>

<!-- filter bar -->
<circle cx="62.3" cy="592" r="2.7" fill="none" stroke="#444" stroke-width="0.6"/>
<path d="M60.8 592 h3 M62.3 590.5 v3" stroke="#444" stroke-width="0.6"/>
<text x="66" y="594" font-size="5" fill="#555">Click here or drag data to add a filter</text>
<g transform="translate(1,525)">
<path d="M855 64.5 h6 l-2.3 2.8 v2.6 l-1.4 0.8 v-3.4 z" fill="none" stroke="#444" stroke-width="0.6"/>
<line x1="867" y1="61" x2="867" y2="74" stroke="#cfcfcf" stroke-width="0.6"/>
<circle cx="879" cy="67" r="3" fill="none" stroke="#444" stroke-width="0.7"/>
<path d="M876 67 h6 M879 64 v6" stroke="#444" stroke-width="0.5"/>
<circle cx="890" cy="64.5" r="0.6" fill="#444"/><circle cx="890" cy="67" r="0.6" fill="#444"/><circle cx="890" cy="69.5" r="0.6" fill="#444"/>
</g>
<line x1="58" y1="600" x2="902" y2="600" stroke="#ececec" stroke-width="0.6"/>

<!-- bottom bar viz -->
<rect x="61" y="602" width="837" height="209" fill="#fefefe" stroke="#c9cdc4" stroke-width="0.8"/>
<line x1="61.5" y1="602" x2="61.5" y2="811" stroke="#c4c8c0" stroke-width="1.5"/>
<line x1="897.5" y1="602" x2="897.5" y2="811" stroke="#9a9a9a" stroke-width="1"/>
<circle cx="67.5" cy="613.5" r="3" fill="#333"/>
<path d="M66 612.5 l1.5 2 l1.5 -2" stroke="#fff" stroke-width="0.6" fill="none"/>
<text x="75" y="615.8" font-size="6.2" fill="#333" textLength="137.7" lengthAdjust="spacingAndGlyphs">Sales, Quantity Ordered by Order Date (Quarter)</text>
<g stroke="#444" stroke-width="0.6" fill="none">
<circle cx="820" cy="613" r="2.6"/><path d="M817.4 613 h5.2 M820 610.4 v5.2"/>
<path d="M830.5 610.5 v5 M833.5 610.5 v5 M829.5 611.5 l1 -1 l1 1 M832.5 614.5 l1 1 l1 -1"/>
<circle cx="843" cy="613" r="2.6"/><circle cx="843" cy="613" r="1"/>
<path d="M852.5 615.5 l5 -5 M854.5 610.5 h3 v3"/>
<rect x="863.5" y="610.5" width="5" height="5" stroke="#999"/>
<path d="M875.5 612 v-1.5 h1.5 M879 610.5 h1.5 v1.5 M880.5 614 v1.5 h-1.5 M877 615.5 h-1.5 v-1.5"/>
</g>
<circle cx="889" cy="610.5" r="0.6" fill="#444"/><circle cx="889" cy="613" r="0.6" fill="#444"/><circle cx="889" cy="615.5" r="0.6" fill="#444"/>

<g stroke="#e3e3ea" stroke-width="0.7">
<line x1="91" y1="627" x2="813.5" y2="627"/>
<line x1="91" y1="658.8" x2="813.5" y2="658.8"/>
<line x1="91" y1="690.6" x2="813.5" y2="690.6"/>
<line x1="91" y1="722.4" x2="813.5" y2="722.4"/>
<line x1="91" y1="754.2" x2="813.5" y2="754.2"/>
</g>
<g font-size="4.8" fill="#555" text-anchor="end">
<text x="87" y="628.8">1.0M</text>
<text x="87" y="660.6">0.8M</text>
<text x="87" y="692.4">0.6M</text>
<text x="87" y="724.2">0.4M</text>
<text x="87" y="756">0.2M</text>
<text x="87" y="787.8">0.0</text>
</g>
<g font-size="4.8" fill="#555">
<text x="820" y="628.8">15K</text>
<text x="820" y="660.6">12K</text>
<text x="820" y="692.4">9K</text>
<text x="820" y="724.2">6K</text>
<text x="820" y="756">3K</text>
<text x="820" y="787.8">0</text>
</g>
<text x="69" y="706.5" font-size="4.8" fill="#555" text-anchor="middle" transform="rotate(-90 69 705)">Sales</text>
<text x="832" y="708.5" font-size="4.8" fill="#888" text-anchor="middle" transform="rotate(90 832 707)">Quantity Ordered</text>
<rect x="845.7" y="709" width="4" height="4" fill="#2e5052"/>
<text x="852" y="712.8" font-size="4.8" fill="#444">Sales</text>
<rect x="845.7" y="718" width="4" height="4" fill="#c97b2f"/>
<text x="852" y="721.8" font-size="4.8" fill="#444">Quantity Ordered</text>
<g fill="#2e5052" stroke="#5a5a5a" stroke-width="0.9">
<rect x="97.8" y="783.8" width="14" height="2.2"/>
<rect x="140.3" y="725.6" width="14" height="60.4"/>
<rect x="182.8" y="727.0" width="14" height="59.0"/>
<rect x="225.3" y="716.7" width="14" height="69.3"/>
<rect x="267.8" y="695.7" width="14" height="90.3"/>
<rect x="310.3" y="745.5" width="14" height="40.5"/>
<rect x="352.8" y="731.6" width="14" height="54.4"/>
<rect x="395.3" y="705.9" width="14" height="80.1"/>
<rect x="437.8" y="671.5" width="14" height="114.5"/>
<rect x="480.3" y="738.3" width="14" height="47.7"/>
<rect x="522.8" y="712.4" width="14" height="73.6"/>
<rect x="565.3" y="714.0" width="14" height="72.0"/>
<rect x="607.8" y="663.6" width="14" height="122.4"/>
<rect x="650.3" y="704.9" width="14" height="81.1"/>
<rect x="692.8" y="699.7" width="14" height="86.3"/>
<rect x="735.3" y="661.3" width="14" height="124.7"/>
<rect x="777.8" y="631.9" width="14" height="154.1"/>
</g>
<g fill="#c97b2f" stroke="#5a5a5a" stroke-width="0.9">
<rect x="112.8" y="784.7" width="14" height="1.3"/>
<rect x="155.3" y="741.5" width="14" height="44.5"/>
<rect x="197.8" y="727.0" width="14" height="59.0"/>
<rect x="240.3" y="716.7" width="14" height="69.3"/>
<rect x="282.8" y="701.3" width="14" height="84.7"/>
<rect x="325.3" y="740.7" width="14" height="45.3"/>
<rect x="367.8" y="725.6" width="14" height="60.4"/>
<rect x="410.3" y="700.9" width="14" height="85.1"/>
<rect x="452.8" y="672.5" width="14" height="113.5"/>
<rect x="495.3" y="733.4" width="14" height="52.6"/>
<rect x="537.8" y="706.5" width="14" height="79.5"/>
<rect x="580.3" y="711.3" width="14" height="74.7"/>
<rect x="622.8" y="663.6" width="14" height="122.4"/>
<rect x="665.3" y="718.6" width="14" height="67.4"/>
<rect x="707.8" y="698.5" width="14" height="87.5"/>
<rect x="750.3" y="649.6" width="14" height="136.4"/>
<rect x="792.8" y="636.1" width="14" height="149.9"/>
</g>
<line x1="91" y1="786" x2="813.5" y2="786" stroke="#9a9a9a" stroke-width="0.8"/>
<g font-size="4.8" fill="#555" text-anchor="middle">
<text x="112.3" y="795.8">Q4 2020</text>
<text x="154.8" y="795.8">Q1 2021</text>
<text x="197.3" y="795.8">Q2 2021</text>
<text x="239.8" y="795.8">Q3 2021</text>
<text x="282.3" y="795.8">Q4 2021</text>
<text x="324.8" y="795.8">Q1 2022</text>
<text x="367.3" y="795.8">Q2 2022</text>
<text x="409.8" y="795.8">Q3 2022</text>
<text x="452.3" y="795.8">Q4 2022</text>
<text x="494.8" y="795.8">Q1 2023</text>
<text x="537.3" y="795.8">Q2 2023</text>
<text x="579.8" y="795.8">Q3 2023</text>
<text x="622.3" y="795.8">Q4 2023</text>
<text x="664.8" y="795.8">Q1 2024</text>
<text x="707.3" y="795.8">Q2 2024</text>
<text x="749.8" y="795.8">Q3 2024</text>
<text x="792.3" y="795.8">Q4 2024</text>
<text x="452.7" y="804.6" fill="#777">Order Date (Quarter)</text>
</g>
<line x1="61" y1="811" x2="898" y2="811" stroke="#c3cdb8" stroke-width="1"/>

<!-- bottom pies -->
<text x="66.7" y="826" font-size="6.2" fill="#333" textLength="87.3" lengthAdjust="spacingAndGlyphs">Sales by Product Sub Category</text>
<text x="486.7" y="826" font-size="6.2" fill="#333" textLength="98.3" lengthAdjust="spacingAndGlyphs"># of Orders by Customer Segment</text>

<g fill="none" stroke="#707070" stroke-width="45.4">
<circle cx="236.7" cy="926" r="49" stroke-dasharray="14.94 400" stroke-dashoffset="-0.35" transform="rotate(-90 236.7 926)"/>
<circle cx="236.7" cy="926" r="49" stroke-dasharray="20.51 400" stroke-dashoffset="-0.35" transform="rotate(-71.71 236.7 926)"/>
<circle cx="236.7" cy="926" r="49" stroke-dasharray="12.72 400" stroke-dashoffset="-0.35" transform="rotate(-46.91 236.7 926)"/>
<circle cx="236.7" cy="926" r="49" stroke-dasharray="37.20 400" stroke-dashoffset="-0.35" transform="rotate(-31.21 236.7 926)"/>
<circle cx="236.7" cy="926" r="49" stroke-dasharray="16.33 400" stroke-dashoffset="-0.35" transform="rotate(13.10 236.7 926)"/>
<circle cx="236.7" cy="926" r="49" stroke-dasharray="19.13 400" stroke-dashoffset="-0.35" transform="rotate(33.01 236.7 926)"/>
<circle cx="236.7" cy="926" r="49" stroke-dasharray="3.89 400" stroke-dashoffset="-0.35" transform="rotate(56.20 236.7 926)"/>
<circle cx="236.7" cy="926" r="49" stroke-dasharray="0.83 400" transform="rotate(61.56 236.7 926)"/>
<circle cx="236.7" cy="926" r="49" stroke-dasharray="15.43 400" stroke-dashoffset="-0.35" transform="rotate(62.53 236.7 926)"/>
<circle cx="236.7" cy="926" r="49" stroke-dasharray="38.28 400" stroke-dashoffset="-0.35" transform="rotate(81.40 236.7 926)"/>
<circle cx="236.7" cy="926" r="49" stroke-dasharray="8.41 400" stroke-dashoffset="-0.35" transform="rotate(126.97 236.7 926)"/>
<circle cx="236.7" cy="926" r="49" stroke-dasharray="3.03 400" stroke-dashoffset="-0.35" transform="rotate(137.63 236.7 926)"/>
<circle cx="236.7" cy="926" r="49" stroke-dasharray="0.31 400" transform="rotate(141.98 236.7 926)"/>
<circle cx="236.7" cy="926" r="49" stroke-dasharray="1.45 400" transform="rotate(142.34 236.7 926)"/>
<circle cx="236.7" cy="926" r="49" stroke-dasharray="19.65 400" stroke-dashoffset="-0.35" transform="rotate(144.04 236.7 926)"/>
<circle cx="236.7" cy="926" r="49" stroke-dasharray="36.71 400" stroke-dashoffset="-0.35" transform="rotate(167.83 236.7 926)"/>
<circle cx="236.7" cy="926" r="49" stroke-dasharray="49.33 400" stroke-dashoffset="-0.35" transform="rotate(211.57 236.7 926)"/>
</g>
<g fill="none" stroke-width="43.2">
<circle cx="236.7" cy="926" r="49" stroke="#2d5153" stroke-dasharray="13.54 400" stroke-dashoffset="-1.05" transform="rotate(-90 236.7 926)"/>
<circle cx="236.7" cy="926" r="49" stroke="#cdeef2" stroke-dasharray="19.11 400" stroke-dashoffset="-1.05" transform="rotate(-71.71 236.7 926)"/>
<circle cx="236.7" cy="926" r="49" stroke="#c87a2e" stroke-dasharray="11.32 400" stroke-dashoffset="-1.05" transform="rotate(-46.91 236.7 926)"/>
<circle cx="236.7" cy="926" r="49" stroke="#fbe1b5" stroke-dasharray="35.80 400" stroke-dashoffset="-1.05" transform="rotate(-31.21 236.7 926)"/>
<circle cx="236.7" cy="926" r="49" stroke="#62aaa6" stroke-dasharray="14.93 400" stroke-dashoffset="-1.05" transform="rotate(13.10 236.7 926)"/>
<circle cx="236.7" cy="926" r="49" stroke="#d4f1f4" stroke-dasharray="17.73 400" stroke-dashoffset="-1.05" transform="rotate(33.01 236.7 926)"/>
<circle cx="236.7" cy="926" r="49" stroke="#3d3632" stroke-dasharray="2.49 400" stroke-dashoffset="-1.05" transform="rotate(56.20 236.7 926)"/>
<circle cx="236.7" cy="926" r="49" stroke="#e6e4e0" stroke-dasharray="0.37 400" stroke-dashoffset="-0.23" transform="rotate(61.56 236.7 926)"/>
<circle cx="236.7" cy="926" r="49" stroke="#9ec47f" stroke-dasharray="14.03 400" stroke-dashoffset="-1.05" transform="rotate(62.53 236.7 926)"/>
<circle cx="236.7" cy="926" r="49" stroke="#d9efc8" stroke-dasharray="36.88 400" stroke-dashoffset="-1.05" transform="rotate(81.40 236.7 926)"/>
<circle cx="236.7" cy="926" r="49" stroke="#9c6570" stroke-dasharray="7.01 400" stroke-dashoffset="-1.05" transform="rotate(126.97 236.7 926)"/>
<circle cx="236.7" cy="926" r="49" stroke="#f8d8cf" stroke-dasharray="1.63 400" stroke-dashoffset="-0.7" transform="rotate(137.63 236.7 926)"/>
<circle cx="236.7" cy="926" r="49" stroke="#6e3a18" stroke-dasharray="0.14 400" stroke-dashoffset="-0.09" transform="rotate(141.98 236.7 926)"/>
<circle cx="236.7" cy="926" r="49" stroke="#f6d5c0" stroke-dasharray="0.65 400" stroke-dashoffset="-0.4" transform="rotate(142.34 236.7 926)"/>
<circle cx="236.7" cy="926" r="49" stroke="#8c73c4" stroke-dasharray="18.25 400" stroke-dashoffset="-1.05" transform="rotate(144.04 236.7 926)"/>
<circle cx="236.7" cy="926" r="49" stroke="#e2d2fa" stroke-dasharray="35.31 400" stroke-dashoffset="-1.05" transform="rotate(167.83 236.7 926)"/>
<circle cx="236.7" cy="926" r="49" stroke="#f1ba68" stroke-dasharray="47.93 400" stroke-dashoffset="-1.05" transform="rotate(211.57 236.7 926)"/>
</g>
<g font-size="5.5" fill="#222" text-anchor="middle">
<text x="212.7" y="884.6">16.25%</text>
<text x="261" y="885.2">6.89%</text>
<text x="284.3" y="919.6">12.31%</text>
<text x="282.7" y="946.2">5.53%</text>
<text x="270" y="960.2">6.44%</text>
<text x="225" y="973.6">12.66%</text>
<text x="192.3" y="946.9">6.61%</text>
<text x="189" y="918.6">12.15%</text>
<text x="236.7" y="928" font-weight="bold" font-size="5">9M</text>
</g>
<g fill="none" stroke="#b5bac8" stroke-width="0.6">
<polyline points="248.3,855 248.3,848.3 303.3,848.3"/>
<polyline points="295.7,880 303.3,876.7"/>
<polyline points="273.3,983.3 276.7,992.7 303.3,992.7"/>
<polyline points="271.7,985 275,1000 303.3,1000"/>
<polyline points="258.3,993.3 262.3,1006.7 303.3,1006.7"/>
<polyline points="180,965 168.3,972.7 156.7,972.7"/>
<polyline points="181.7,966.7 166.7,979.3 156.7,979.3"/>
<polyline points="184,969 170,986.7 156.7,986.7"/>
<polyline points="188.3,974 175,993.7 156.7,993.7"/>
</g>
<g font-size="5.3" fill="#444">
<text x="306" y="850.1">5.08%</text>
<text x="306" y="878.5">4.36%</text>
<text x="306" y="994.5">1.49%</text>
<text x="306" y="1001.8">0.27%</text>
<text x="306" y="1008.5">5.24%</text>
</g>
<g font-size="5.3" fill="#444" text-anchor="end">
<text x="155" y="974.5">0.47%</text>
<text x="155" y="981.1">0.1%</text>
<text x="155" y="988.5">1.21%</text>
<text x="155" y="995.5">2.96%</text>
</g>
<text x="417" y="855.5" font-size="4.8" fill="#777">Product Sub Category</text>
<g>
<rect x="417" y="862.3" width="4" height="4" fill="#2d5153"/>
<rect x="417" y="870.6" width="4" height="4" fill="#cdeef2"/>
<rect x="417" y="879.0" width="4" height="4" fill="#c87a2e"/>
<rect x="417" y="887.3" width="4" height="4" fill="#fbe1b5"/>
<rect x="417" y="895.7" width="4" height="4" fill="#62aaa6"/>
<rect x="417" y="904.0" width="4" height="4" fill="#d4f1f4"/>
<rect x="417" y="912.3" width="4" height="4" fill="#3d3632"/>
<rect x="417" y="920.7" width="4" height="4" fill="#e6e4e0"/>
<rect x="417" y="929.0" width="4" height="4" fill="#9ec47f"/>
<rect x="417" y="937.4" width="4" height="4" fill="#d9efc8"/>
<rect x="417" y="945.7" width="4" height="4" fill="#9c6570"/>
<rect x="417" y="954.0" width="4" height="4" fill="#f8d8cf"/>
<rect x="417" y="962.4" width="4" height="4" fill="#6e3a18"/>
<rect x="417" y="970.7" width="4" height="4" fill="#f6d5c0"/>
<rect x="417" y="979.1" width="4" height="4" fill="#8c73c4"/>
<rect x="417" y="987.4" width="4" height="4" fill="#e2d2fa"/>
<rect x="417" y="995.7" width="4" height="4" fill="#f1ba68"/>
</g>
<g font-size="5" fill="#333">
<text x="424" y="866.1">Appliances</text>
<text x="424" y="874.4">Binders and Binder...</text>
<text x="424" y="882.8">Bookcases</text>
<text x="424" y="891.1">Chairs &amp; Chairmats</text>
<text x="424" y="899.5">Computer Peripher...</text>
<text x="424" y="907.8">Copiers and Fax</text>
<text x="424" y="916.1">Envelopes</text>
<text x="424" y="924.5">Labels</text>
<text x="424" y="932.8">Office Furnishings</text>
<text x="424" y="941.2">Office Machines</text>
<text x="424" y="949.5">Paper</text>
<text x="424" y="957.8">Pens &amp; Art Supplies</text>
<text x="424" y="966.2">Rubber Bands</text>
<text x="424" y="974.5">Scissors, Rulers an...</text>
<text x="424" y="982.9">Storage &amp; Organiza...</text>
<text x="424" y="991.2">Tables</text>
<text x="424" y="999.5">Telephones and Co...</text>
</g>

<!-- bottom segment donut -->
<g fill="none" stroke="#707070" stroke-width="40.9">
<circle cx="690" cy="917.3" r="44.75" stroke-dasharray="55.97 400" stroke-dashoffset="-0.4" transform="rotate(-90 690 917.3)"/>
<circle cx="690" cy="917.3" r="44.75" stroke-dasharray="98.24 400" stroke-dashoffset="-0.4" transform="rotate(-17.32 690 917.3)"/>
<circle cx="690" cy="917.3" r="44.75" stroke-dasharray="69.33 400" stroke-dashoffset="-0.4" transform="rotate(109.48 690 917.3)"/>
<circle cx="690" cy="917.3" r="44.75" stroke-dasharray="54.48 400" stroke-dashoffset="-0.4" transform="rotate(199.26 690 917.3)"/>
</g>
<g fill="none" stroke-width="39.1">
<circle cx="690" cy="917.3" r="44.75" stroke="#2d5153" stroke-dasharray="54.37 400" stroke-dashoffset="-1.2" transform="rotate(-90 690 917.3)"/>
<circle cx="690" cy="917.3" r="44.75" stroke="#c87a2e" stroke-dasharray="96.64 400" stroke-dashoffset="-1.2" transform="rotate(-17.32 690 917.3)"/>
<circle cx="690" cy="917.3" r="44.75" stroke="#67aeaa" stroke-dasharray="67.73 400" stroke-dashoffset="-1.2" transform="rotate(109.48 690 917.3)"/>
<circle cx="690" cy="917.3" r="44.75" stroke="#413a35" stroke-dasharray="52.88 400" stroke-dashoffset="-1.2" transform="rotate(199.26 690 917.3)"/>
</g>
<g font-size="5.3" text-anchor="middle">
<text x="716" y="882.5" fill="#e8e8e8">20.19%</text>
<text x="720.7" y="949.5" fill="#222">35.22%</text>
<text x="650.7" y="937.1" fill="#222">24.94%</text>
<text x="665" y="882.5" fill="#ddd">19.66%</text>
<text x="690" y="919" fill="#222" font-weight="bold" font-size="4.6">6K</text>
</g>
<text x="589" y="1014" font-size="4.8" fill="#666">Customer Segment</text>
<rect x="640.7" y="1010.2" width="3.8" height="3.8" fill="#2d5153"/>
<rect x="676" y="1010.2" width="3.8" height="3.8" fill="#c87a2e"/>
<rect x="710.7" y="1010.2" width="3.8" height="3.8" fill="#67aeaa"/>
<rect x="750.7" y="1010.2" width="3.8" height="3.8" fill="#413a35"/>
<g font-size="4.8" fill="#333">
<text x="647.7" y="1014">Consumer</text>
<text x="682.7" y="1014">Corporate</text>
<text x="717.7" y="1014">Home Office</text>
<text x="757.7" y="1014">Small Business</text>
</g>

<!-- bottom status -->
<line x1="58" y1="1025" x2="902" y2="1025" stroke="#e8e8e8" stroke-width="0.6"/>
<text x="61" y="1035" font-size="5.3" fill="#333" font-weight="bold">Canvas 1</text>
<rect x="58" y="1038.5" width="33" height="1.5" fill="#5d7f70"/>
<circle cx="107" cy="1033" r="2.6" fill="none" stroke="#555" stroke-width="0.6"/>
<path d="M105.6 1033 h2.8 M107 1031.6 v2.8" stroke="#555" stroke-width="0.5"/>
<g transform="translate(0,524)">
<text x="757" y="511" font-size="4.8" fill="#444" textLength="43" lengthAdjust="spacingAndGlyphs">17 Groups, 2 Bars</text>
<rect x="810" y="506.5" width="5" height="5" fill="none" stroke="#555" stroke-width="0.6"/>
<rect x="811.5" y="508" width="2" height="2" fill="#555"/>
<rect x="820" y="506.8" width="4.4" height="4.4" fill="none" stroke="#aaa" stroke-width="0.6"/>
<polygon points="826.5,508.3 829,508.3 827.75,510" fill="#aaa"/>
<path d="M839.5 506 h5 v3 l-2.5 2.5 l-2.5 -2.5 z" fill="none" stroke="#6a9a40" stroke-width="0.7"/>
<path d="M852.5 505.5 l-2 3.5 h3 l-1.5 3" fill="none" stroke="#6a9a40" stroke-width="0.7"/>
<line x1="861" y1="504.5" x2="861" y2="514" stroke="#ccc" stroke-width="0.6"/>
<rect x="867.5" y="505.5" width="5.5" height="7" fill="none" stroke="#333" stroke-width="1"/>
<rect x="879" y="505.5" width="5.5" height="7" fill="none" stroke="#333" stroke-width="1"/>
<line x1="881.7" y1="505.5" x2="881.7" y2="512.5" stroke="#333" stroke-width="0.8"/>
<rect x="890.5" y="505.5" width="5.5" height="7" fill="none" stroke="#333" stroke-width="1"/>
<rect x="893" y="505.5" width="3" height="7" fill="#333"/>
</g>

<!-- cursor -->
<polygon points="877,631 877,643.5 880,640.8 882.4,645.8 884.4,644.9 882,639.9 886,639.6" fill="#111" stroke="#fff" stroke-width="0.5"/>
</g>
</svg>
</body></html>
